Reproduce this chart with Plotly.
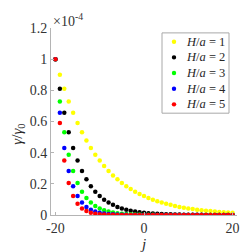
import plotly.graph_objects as go

j = list(range(-20, 21))

h1 = [1.000, 0.900, 0.810, 0.729, 0.656, 0.590, 0.531, 0.478, 0.430, 0.387,
      0.349, 0.314, 0.282, 0.254, 0.229, 0.206, 0.185, 0.167, 0.150, 0.135,
      0.122, 0.109, 0.098, 0.089, 0.080, 0.072, 0.065, 0.058, 0.052, 0.047,
      0.042, 0.038, 0.034, 0.031, 0.028, 0.025, 0.023, 0.020, 0.018, 0.016, 0.015]
h2 = [1.000, 0.810, 0.656, 0.531, 0.430, 0.349, 0.282, 0.229, 0.185, 0.150,
      0.122, 0.098, 0.080, 0.065, 0.052, 0.042, 0.034, 0.028, 0.023, 0.018,
      0.015, 0.012, 0.0097, 0.0079, 0.0064, 0.0052, 0.0042, 0.0034, 0.0027, 0.0022,
      0.0018, 0.0015, 0.0012, 0.0010, 0.0008, 0.0007, 0.0005, 0.0004, 0.0003, 0.0003, 0.0002]
h3 = [1.000, 0.729, 0.531, 0.387, 0.282, 0.206, 0.150, 0.109, 0.080, 0.058,
      0.042, 0.031, 0.023, 0.016, 0.012, 0.0088, 0.0064, 0.0047, 0.0034, 0.0025,
      0.0018, 0.0013, 0.0010, 0.0007, 0.0005, 0.0004, 0.0003, 0.0002, 0.0002, 0.0001,
      0.0001, 0.0001, 0.0, 0.0, 0.0, 0.0, 0.0, 0.0, 0.0, 0.0, 0.0]
h4 = [1.000, 0.656, 0.430, 0.282, 0.185, 0.122, 0.080, 0.052, 0.034, 0.023,
      0.015, 0.0097, 0.0064, 0.0042, 0.0027, 0.0018, 0.0012, 0.0008, 0.0005, 0.0003,
      0.0002, 0.0001, 0.0001, 0.0, 0.0, 0.0, 0.0, 0.0, 0.0, 0.0,
      0.0, 0.0, 0.0, 0.0, 0.0, 0.0, 0.0, 0.0, 0.0, 0.0, 0.0]
h5 = [1.000, 0.590, 0.349, 0.206, 0.122, 0.072, 0.042, 0.025, 0.015, 0.0088,
      0.0052, 0.0031, 0.0018, 0.0011, 0.0006, 0.0004, 0.0002, 0.0001, 0.0001, 0.0,
      0.0, 0.0, 0.0, 0.0, 0.0, 0.0, 0.0, 0.0, 0.0, 0.0,
      0.0, 0.0, 0.0, 0.0, 0.0, 0.0, 0.0, 0.0, 0.0, 0.0, 0.0]

series = [h1, h2, h3, h4, h5]
names = ["<i>H</i>/<i>a</i> = 1", "<i>H</i>/<i>a</i> = 2", "<i>H</i>/<i>a</i> = 3",
         "<i>H</i>/<i>a</i> = 4", "<i>H</i>/<i>a</i> = 5"]
colors = ["#ffff00", "#000000", "#00ff00", "#0000ff", "#ff0000"]

yticks = [0, 0.2, 0.4, 0.6, 0.8, 1.0, 1.2]
yticklabels = ["0", "0.2", "0.4", "0.6", "0.8", "1", "1.2"]
xticks = [-20, 0, 20]
xticklabels = ["-20", "0", "20"]

FONT = "Liberation Serif, Times New Roman, serif"
TXT = "#262626"

fig = go.Figure()
for ys, nm, c in zip(series, names, colors):
    fig.add_trace(go.Scatter(x=j, y=ys, mode="markers", name=nm, showlegend=False,
                             marker=dict(color=c, size=4.5, line=dict(width=0))))

axis_common = dict(showline=True, linecolor="#b4b4b4", linewidth=1, ticks="inside",
                   ticklen=3, tickcolor="#b4b4b4", showgrid=False, zeroline=False,
                   tickfont=dict(family=FONT, size=14, color="#333333"))

# plot area in pixels: x 43..229, y 20..211
PW, PH = 186.0, 191.0
def px_x(p):
    return (p - 43) / PW
def px_y(p):
    return (211 - p) / PH

shapes = [dict(type="rect", xref="paper", yref="paper",
               x0=px_x(154), x1=px_x(221), y0=px_y(107), y1=px_y(25),
               line=dict(color="#a8a8a8", width=1), fillcolor="white", layer="above")]
annotations = []
for k, (nm, c) in enumerate(zip(names, colors)):
    yy = px_y(34 + 16 * k)
    shapes.append(dict(type="circle", xref="paper", yref="paper",
                       xsizemode="pixel", ysizemode="pixel",
                       xanchor=px_x(166), yanchor=yy,
                       x0=-2.2, x1=2.2, y0=-2.2, y1=2.2,
                       fillcolor=c, line=dict(width=0), layer="above"))
    annotations.append(dict(text=nm, xref="paper", yref="paper", x=px_x(176), y=yy,
                            xanchor="left", yanchor="middle", showarrow=False,
                            font=dict(family=FONT, size=12.5, color=TXT)))

annotations.append(dict(text="×10<sup>-4</sup>", xref="paper", yref="paper",
                        x=0.0, y=1.0, xanchor="left", yanchor="bottom", yshift=-3,
                        showarrow=False, font=dict(family=FONT, size=14, color="#333333")))
annotations.append(dict(text="<i>γ</i>/<i>γ</i><sub>0</sub>", xref="paper", yref="paper",
                        x=px_x(10), y=px_y(129), xanchor="center", yanchor="middle",
                        textangle=-90, showarrow=False,
                        font=dict(family=FONT, size=15, color=TXT)))

fig.update_layout(
    width=249, height=252,
    margin=dict(l=43, r=20, t=20, b=41),
    paper_bgcolor="white", plot_bgcolor="white",
    font=dict(family=FONT, size=13, color=TXT),
    showlegend=False,
    xaxis=dict(range=[-21, 21], tickvals=xticks, ticktext=xticklabels,
               title=dict(text="<i>j</i>", standoff=2, font=dict(family=FONT, size=15)),
               **axis_common),
    yaxis=dict(range=[0, 1.2], tickvals=yticks, ticktext=yticklabels, **axis_common),
    shapes=shapes,
    annotations=annotations,
)

fig.write_html("out.html")
